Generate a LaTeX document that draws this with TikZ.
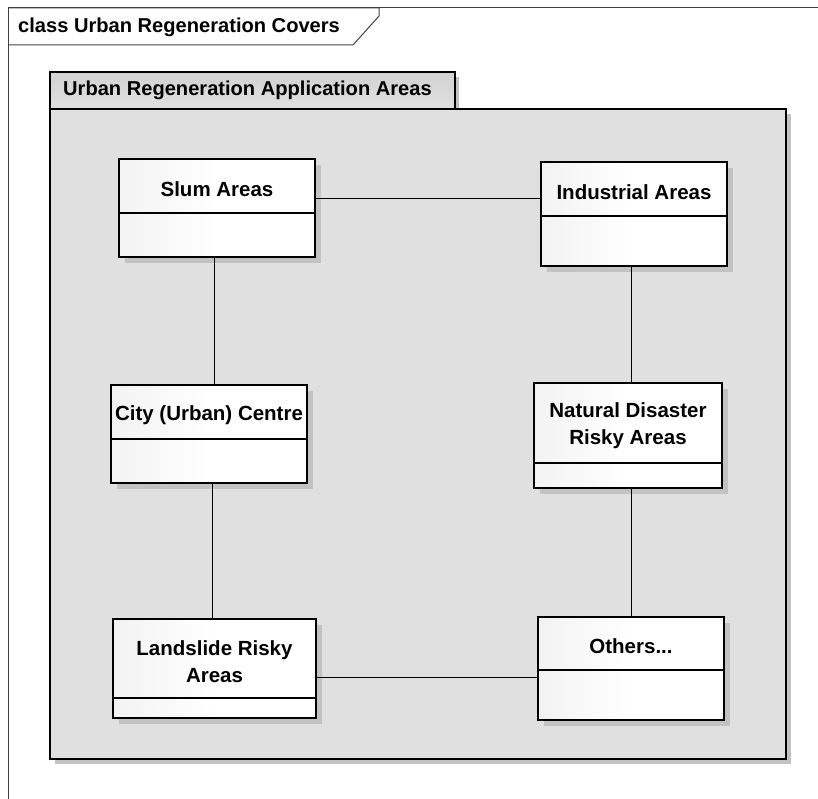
\documentclass[tikz,border=0pt]{standalone}
\usepackage{fontspec}
\setmainfont{Liberation Sans}
\usetikzlibrary{calc,fit}
\definecolor{pkgfill}{HTML}{E0E0E0}
\definecolor{pkgtab}{HTML}{D2D2D2}
\definecolor{shadowgray}{HTML}{C2C2C2}
\definecolor{framegray}{HTML}{404040}
\pgfdeclarehorizontalshading{classshade}{100bp}{color(0bp)=(black!10); color(50bp)=(white); color(100bp)=(white)}
\tikzset{
  classbox/.style={draw, line width=1.3pt, inner sep=0pt, shading=classshade},
  boxline/.style={line width=1.3pt},
  classname/.style={font=\bfseries\fontsize{20.5}{27}\selectfont, align=center, inner sep=0pt},
  conn/.style={line width=1.4pt},
  titletext/.style={font=\bfseries\fontsize{20.1}{24}\selectfont, anchor=west, inner sep=0pt}
}
% class box: (name)(x1,y1)(x2,y2)(divider y){label}
\def\classbox(#1)(#2,#3)(#4,#5)(#6)#7{
  \fill[shadowgray] (#2+6,#3+6) rectangle (#4+6,#5+6);
  \node[classbox, fit={(#2,#3) (#4,#5)}] (#1) {};
  \draw[boxline] (#2,#6) -- (#4,#6);
  \node[classname] (#1-t) at ($(#2,#3+3)!0.5!(#4,#6+3)$) {#7};
}

\begin{document}
\begin{tikzpicture}[x=1pt,y=-1pt]
		%%%%% FRAME %%%%%
		\useasboundingbox (0,0) rectangle (818,799);
		\draw[framegray, line width=1pt] (8,799) -- (8,8) -- (818,8);
		\draw[framegray, line width=1pt] (8,8) -- (379,8) -- (379,16) -- (353,45) -- (8,45);
		\node[titletext] (frametitle) at (18,27) {class Urban Regeneration Covers};
		
		%%%%% PACKAGE %%%%%
		\fill[shadowgray] (55,114) rectangle (791,764);
		\fill[shadowgray] (55,77) rectangle (459,109);
		\draw[line width=1.3pt, fill=pkgfill] (50,109) rectangle (786,759);
		\draw[line width=1.3pt, top color=pkgtab, bottom color=pkgfill] (50,72) rectangle (455,109);
		\node[titletext] (pkgtitle) at (63,90) {Urban Regeneration Application Areas};
		
		%%%%% CLASSES %%%%%
		\classbox(slum)(119,159)(315,257)(213){Slum Areas}
		\classbox(industrial)(541,162)(727,266)(216){Industrial Areas}
		\classbox(city)(111,385)(307,483)(439){City (Urban) Centre}
		\classbox(natural)(534,383)(722,488)(463){Natural Disaster\\Risky Areas}
		\classbox(landslide)(113,619)(316,718)(698){Landslide Risky\\Areas}
		\classbox(others)(538,617)(724,720)(670){Others...}
		
		%%%%% LINKS %%%%%
		\draw[conn] ([yshift=-40pt]slum.north east) coordinate (l1) -- (l1 -| industrial.west);
		\draw[conn] ([xshift=96pt]slum.south west) coordinate (l2) -- (l2 |- city.north);
		\draw[conn] ([xshift=91pt]industrial.south west) coordinate (l3) -- (l3 |- natural.north);
		\draw[conn] ([xshift=102pt]city.south west) coordinate (l4) -- (l4 |- landslide.north);
		\draw[conn] ([xshift=98pt]natural.south west) coordinate (l5) -- (l5 |- others.north);
		\draw[conn] ([yshift=-59pt]landslide.north east) coordinate (l6) -- (l6 -| others.west);
\end{tikzpicture}
\end{document}
